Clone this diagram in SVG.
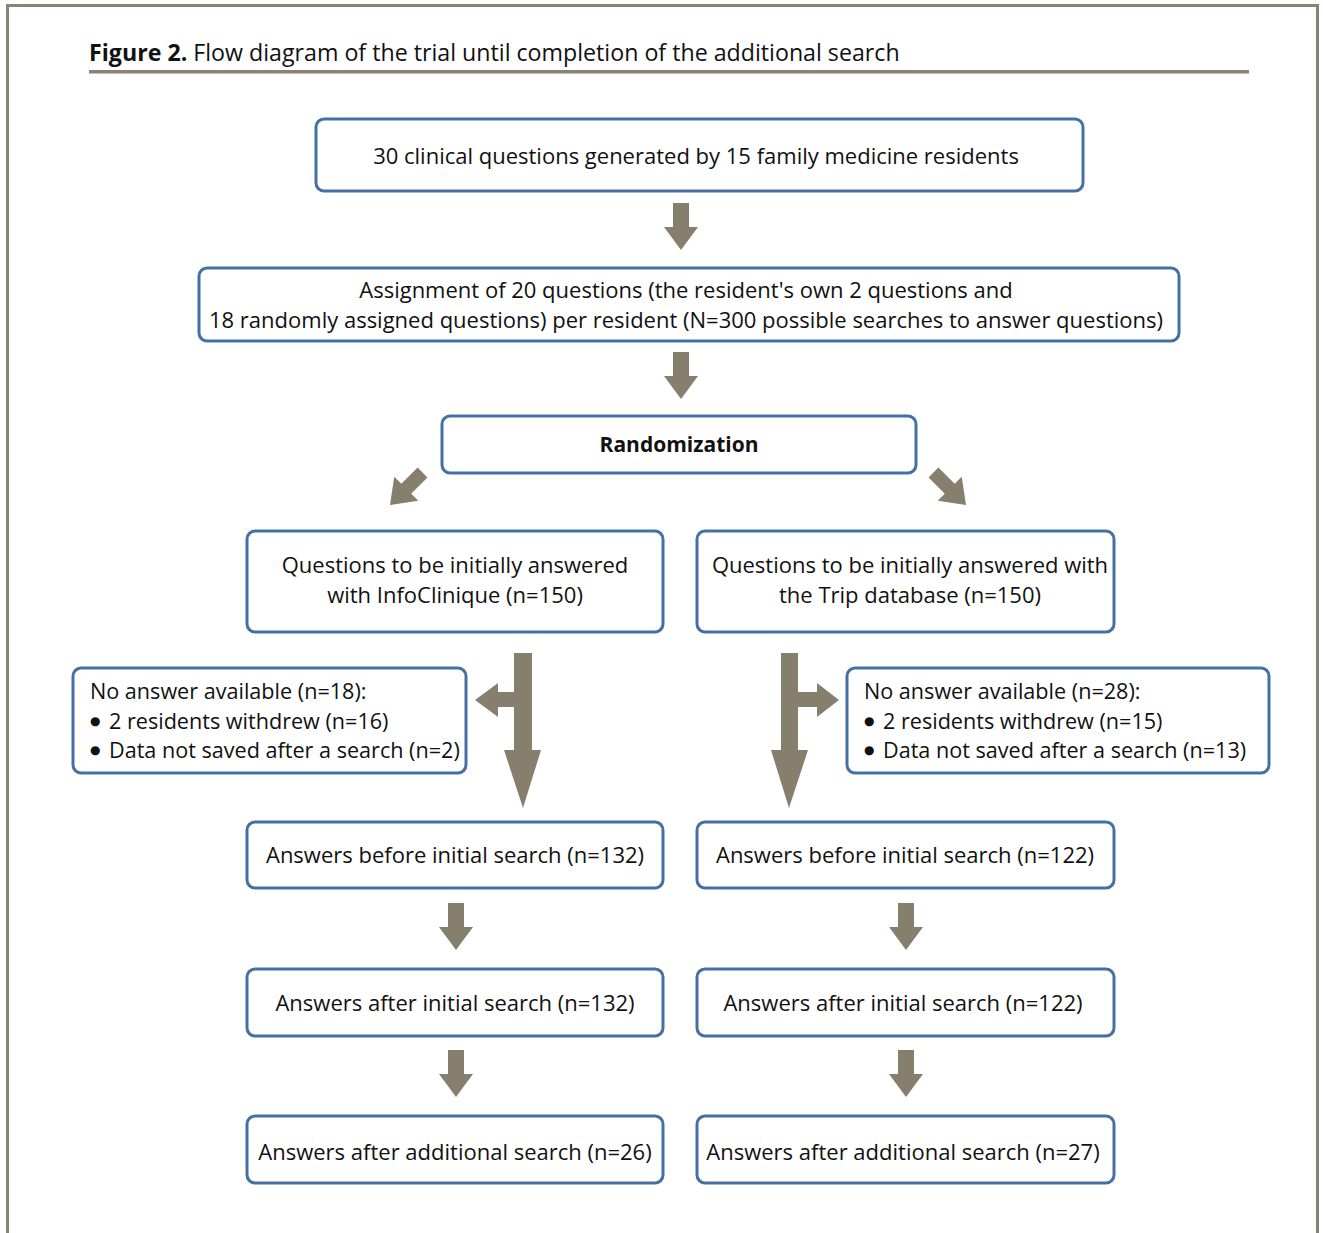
<svg xmlns="http://www.w3.org/2000/svg" width="1323" height="1233" viewBox="0 0 1323 1233">
<style>
  .box { fill: #ffffff; stroke: #4470a6; stroke-width: 3; }
  .t { font-family: "Open Sans", "Liberation Sans", Arial, sans-serif; font-size: 22px; fill: #111; }
  .s { font-size: 21.6px; }
  .title { font-family: "Open Sans", "Liberation Sans", Arial, sans-serif; font-size: 23.2px; fill: #111; }
  .c { text-anchor: middle; }
  .b { font-weight: bold; }
  .bul { font-family: "DejaVu Sans", sans-serif; font-size: 12px; fill: #111; }
  .arr { fill: #877f6e; }
  .frame { fill: none; stroke: #8a8272; stroke-width: 3; }
</style>
<defs>
  <path id="down" d="M-8,-47 L8,-47 L8,-23 L17,-23 L0,0 L-17,-23 L-8,-23 Z"/>
  <path id="diag" d="M-7,-46 L7,-46 L7,-23 L17,-23 L0,0 L-17,-23 L-7,-23 Z"/>
</defs>
<rect x="0" y="0" width="1323" height="1233" fill="#ffffff"/>
<path class="frame" d="M7.5,1240 L7.5,5.5 L1317.5,5.5 L1317.5,1240"/>
<rect x="89" y="70" width="1160" height="3.5" fill="#8a8272"/>
<text class="title" x="89" y="61"><tspan class="b">Figure 2.</tspan> Flow diagram of the trial until completion of the additional search</text>

<g id="n1"><rect class="box" x="316" y="119" width="767" height="72" rx="8"/><text class="t c" x="696" y="164">30 clinical questions generated by 15 family medicine residents</text></g>
<g id="n2"><rect class="box" x="199" y="268" width="980" height="73" rx="8"/><text class="t c" x="686" y="298">Assignment of 20 questions (the resident's own 2 questions and</text><text class="t c" x="686" y="328">18 randomly assigned questions) per resident (N=300 possible searches to answer questions)</text></g>
<g id="n3"><rect class="box" x="442" y="416" width="474" height="57" rx="8"/><text class="t c b" x="679" y="452" style="font-size:21px">Randomization</text></g>
<g id="n4"><rect class="box" x="247" y="531" width="416" height="101" rx="8"/><text class="t c" x="455" y="573">Questions to be initially answered</text><text class="t c" x="455" y="603">with InfoClinique (n=150)</text></g>
<g id="n5"><rect class="box" x="697" y="531" width="417" height="101" rx="8"/><text class="t c" x="910" y="573">Questions to be initially answered with</text><text class="t c" x="910" y="603">the Trip database (n=150)</text></g>
<g id="n6"><rect class="box" x="73" y="668" width="393" height="105" rx="8"/>
  <text class="t s" x="90" y="699">No answer available (n=18):</text>
  <text class="bul" x="90" y="725">●</text><text class="t s" x="109" y="729">2 residents withdrew (n=16)</text>
  <text class="bul" x="90" y="754">●</text><text class="t s" x="109" y="758">Data not saved after a search (n=2)</text></g>
<g id="n7"><rect class="box" x="847" y="668" width="422" height="105" rx="8"/>
  <text class="t s" x="864" y="699">No answer available (n=28):</text>
  <text class="bul" x="864" y="725">●</text><text class="t s" x="883" y="729">2 residents withdrew (n=15)</text>
  <text class="bul" x="864" y="754">●</text><text class="t s" x="883" y="758">Data not saved after a search (n=13)</text></g>
<g id="n8"><rect class="box" x="247" y="822" width="416" height="66" rx="8"/><text class="t c" x="455" y="863">Answers before initial search (n=132)</text></g>
<g id="n9"><rect class="box" x="697" y="822" width="417" height="66" rx="8"/><text class="t c" x="905" y="863">Answers before initial search (n=122)</text></g>
<g id="n10"><rect class="box" x="247" y="969" width="416" height="67" rx="8"/><text class="t c" x="455" y="1011">Answers after initial search (n=132)</text></g>
<g id="n11"><rect class="box" x="697" y="969" width="417" height="67" rx="8"/><text class="t c" x="903" y="1011">Answers after initial search (n=122)</text></g>
<g id="n12"><rect class="box" x="247" y="1116" width="416" height="67" rx="8"/><text class="t c" x="455" y="1160">Answers after additional search (n=26)</text></g>
<g id="n13"><rect class="box" x="697" y="1116" width="417" height="67" rx="8"/><text class="t c" x="903" y="1160">Answers after additional search (n=27)</text></g>

<g id="connectors" class="arr">
  <use href="#down" transform="translate(681,250)"/>
  <use href="#down" transform="translate(681,399)"/>
  <use href="#diag" transform="translate(390,505) rotate(45)"/>
  <use href="#diag" transform="translate(966,505) rotate(-45)"/>
  <path d="M514,653 L532,653 L532,750 L541,750 L523,808 L504,750 L514,750 L514,707 L498,707 L498,717 L475,700 L498,683 L498,692 L514,692 Z"/>
  <path d="M781,653 L798,653 L798,692 L817,692 L817,683 L839,700 L817,717 L817,707 L798,707 L798,750 L808,750 L789,808 L771,750 L781,750 Z"/>
  <use href="#down" transform="translate(456,950)"/>
  <use href="#down" transform="translate(906,950)"/>
  <use href="#down" transform="translate(456,1097)"/>
  <use href="#down" transform="translate(906,1097)"/>
</g>
</svg>
